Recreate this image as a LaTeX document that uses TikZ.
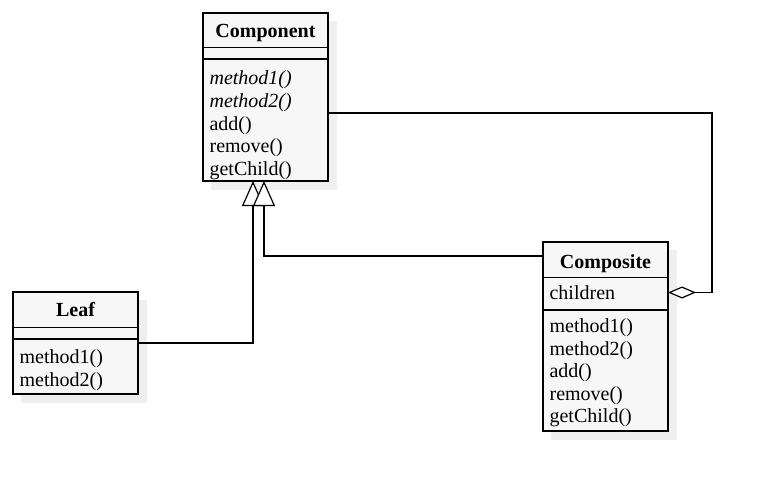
\documentclass[tikz,border=0pt]{standalone}
\usepackage{fontspec}
\setmainfont{Liberation Serif}
\usetikzlibrary{arrows.meta,calc}
\definecolor{boxfill}{HTML}{F7F7F7}
\definecolor{shadowgray}{HTML}{EFEFEF}
\begin{document}
\begin{tikzpicture}[x=0.75pt,y=-0.75pt, line width=0.9pt,
  cls/.style={draw=black, fill=boxfill, anchor=north west, inner sep=0pt, outer sep=0pt, minimum width=93.75pt},
  shade/.style={fill=shadowgray, draw=none},
  txt/.style={anchor=base west, inner sep=0pt, font=\fontsize{15}{18}\selectfont},
  ttl/.style={anchor=base, inner sep=0pt, font=\fontsize{15}{18}\selectfont\bfseries},
  gen/.style={-{Triangle[fill=white,length=18.75pt,width=16.5pt]}},
  agg/.style={-{Diamond[fill=white,length=21pt,width=9pt]}}]
\useasboundingbox[fill=white] (0,0) rectangle (763,481);

% shadows
\fill[shadowgray] (211,21) rectangle (337,190);
\fill[shadowgray] (21,300) rectangle (147,403);
\fill[shadowgray] (551,250) rectangle (677,440);

% Component
\node[cls, minimum height=126pt] (comp) at (203,13) {};
\draw ($(comp.north west)+(0,34.5)$) -- ++(125,0);
\draw ($(comp.north west)+(0,46)$) -- ++(125,0);
\node[ttl] (compT) at (265.5,38) {Component};
\node[txt] (c1) at (209,85) {\itshape method1()};
\node[txt] (c2) at (209,107.6) {\itshape method2()};
\node[txt] (c3) at (209,130.2) {add()};
\node[txt] (c4) at (209,152.8) {remove()};
\node[txt] (c5) at (209,175.4) {getChild()};

% Leaf
\node[cls, minimum height=76.5pt] (leaf) at (13,292) {};
\draw ($(leaf.north west)+(0,35.5)$) -- ++(125,0);
\draw ($(leaf.north west)+(0,47)$) -- ++(125,0);
\node[ttl] (leafT) at (75.5,316.7) {Leaf};
\node[txt] (l1) at (19,363.5) {method1()};
\node[txt] (l2) at (19,386) {method2()};

% Composite
\node[cls, minimum height=141.75pt] (compo) at (543,242) {};
\draw ($(compo.north west)+(0,35.5)$) -- ++(125,0);
\draw ($(compo.north west)+(0,68)$) -- ++(125,0);
\node[ttl] (compoT) at (605.5,268) {Composite};
\node[txt] (ch) at (549,299) {children};
\node[txt] (m1) at (549,332.5) {method1()};
\node[txt] (m2) at (549,355) {method2()};
\node[txt] (m3) at (549,377.5) {add()};
\node[txt] (m4) at (549,400) {remove()};
\node[txt] (m5) at (549,422.5) {getChild()};

% connectors
\coordinate (g1) at ($(comp.south)+(-12.5,0)$);
\coordinate (g2) at ($(comp.south)+(-1.5,0)$);
\coordinate (cw) at ($(compo.north west)+(0,14)$);
\coordinate (ce) at ($(comp.north east)+(0,100)$);
\coordinate (cc) at ($(compo.north east)+(0,50.5)$);
\draw[gen] (leaf.east) -| (g1);
\draw[gen] (cw) -| (g2);
\draw[agg] (ce) -| ($(cc)+(44,0)$) -- (cc);
\end{tikzpicture}
\end{document}
